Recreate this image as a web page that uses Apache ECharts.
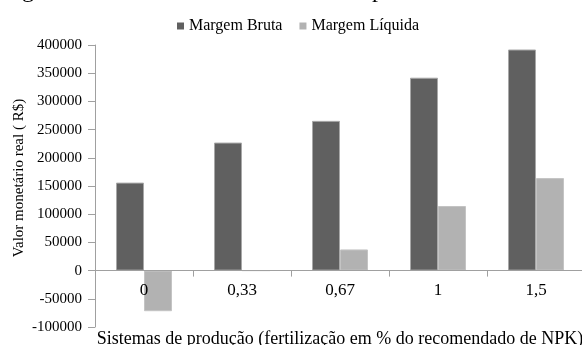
<!DOCTYPE html>
<html>
<head>
<meta charset="utf-8">
<title>Margem Bruta e Líquida</title>
<script src="https://cdn.jsdelivr.net/npm/echarts@6/dist/echarts.min.js"></script>
<style>
  html, body { margin: 0; padding: 0; background: #fff; }
  #chart { width: 582px; height: 345px; }
</style>
</head>
<body>
<div id="chart"></div>
<script>
// dados
const categorias = ['0', '0,33', '0,67', '1', '1,5']
const margemBruta = [156000, 227000, 265500, 342000, 392000]
const margemLiquida = [-72000, 0, 37500, 114500, 164000]
const yTicks = { min: -100000, max: 400000, step: 50000 }

const serif = 'Liberation Serif'

// área do gráfico
const gridTop = 45
const gridBottom = 18
const gridHeight = 345 - gridTop - gridBottom
// o eixo x fica na linha do zero
const zeroOffset = -gridHeight * (0 - yTicks.min) / (yTicks.max - yTicks.min)

const chart = echarts.init(document.getElementById('chart'))

chart.setOption({
  animation: false,
  textStyle: { fontFamily: serif, color: '#000' },
  // restos do título cortado no topo da imagem
  graphic: [
    { type: 'text', left: 22, top: -21, style: { text: 'g', fontFamily: serif, fontSize: 24, fill: '#000' } },
    { type: 'text', left: 372, top: -21, style: { text: 'p', fontFamily: serif, fontSize: 24, fill: '#000' } }
  ],
  legend: {
    data: ['Margem Bruta', 'Margem Líquida'],
    left: 172,
    top: 13,
    itemWidth: 7,
    itemHeight: 7,
    itemGap: 17,
    icon: 'rect',
    itemStyle: { borderWidth: 0 },
    textStyle: { fontFamily: serif, fontSize: 16, color: '#000' }
  },
  grid: {
    left: 95,
    right: -3,
    top: gridTop,
    bottom: gridBottom,
    outerBoundsMode: 'none'
  },
  xAxis: {
    type: 'category',
    data: categorias,
    offset: zeroOffset,
    z: 10,
    name: 'Sistemas de produção (fertilização em % do recomendado de NPK)',
    nameLocation: 'middle',
    nameGap: 60,
    nameTextStyle: { fontFamily: serif, fontSize: 18, color: '#000' },
    axisLine: { onZero: false, lineStyle: { color: '#a0a0a0', width: 1 } },
    axisTick: { show: true, length: 6, interval: 0, lineStyle: { color: '#a0a0a0' } },
    axisLabel: { interval: 0, margin: 11, fontFamily: serif, fontSize: 17, color: '#000' }
  },
  yAxis: {
    type: 'value',
    min: yTicks.min,
    max: yTicks.max,
    interval: yTicks.step,
    name: 'Valor monetário real ( R$)',
    nameLocation: 'middle',
    nameRotate: 90,
    nameGap: 68,
    nameMoveOverlap: false,
    nameTextStyle: { fontFamily: serif, fontSize: 15, color: '#000', padding: [0, 0, 0, 16] },
    splitLine: { show: false },
    axisLine: { show: true, lineStyle: { color: '#a0a0a0', width: 1 } },
    axisTick: { show: true, length: 7, lineStyle: { color: '#a0a0a0' } },
    axisLabel: {
      margin: 13,
      fontFamily: serif,
      fontSize: 15,
      color: '#000',
      formatter: v => String(v)
    }
  },
  series: [
    {
      name: 'Margem Bruta',
      type: 'bar',
      data: margemBruta,
      barWidth: 28,
      barGap: '0%',
      itemStyle: { color: '#606060', borderColor: '#a8a8a8', borderWidth: 1 }
    },
    {
      name: 'Margem Líquida',
      type: 'bar',
      data: margemLiquida,
      barWidth: 28,
      itemStyle: { color: '#b2b2b2', borderColor: '#c4c4c4', borderWidth: 1 }
    }
  ]
})
</script>
</body>
</html>
